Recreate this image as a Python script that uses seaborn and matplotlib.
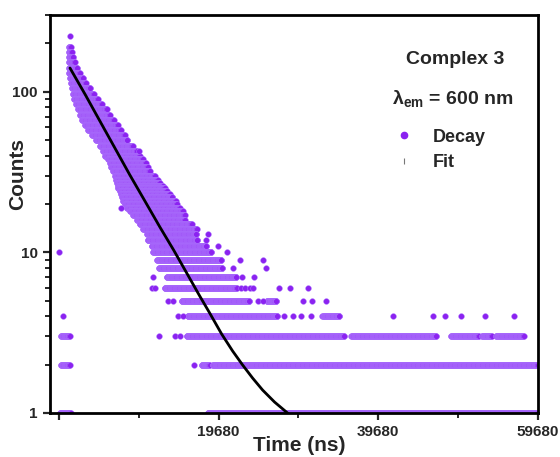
import numpy as np
import pandas as pd
import seaborn as sns
import matplotlib.pyplot as plt
from matplotlib.lines import Line2D
from matplotlib.ticker import FixedLocator, LogLocator, NullFormatter, FixedFormatter

# decay: each row = one count level over a time span (ns)
row_counts = [190, 177, 164, 152, 141, 131, 122, 113, 105, 97, 90, 84, 78, 72, 67, 62, 58, 54, 50, 46,
              43, 40, 38, 36, 34, 32, 30, 28, 27, 26, 25, 24, 23, 22, 21, 20, 19, 18, 17, 16,
              15, 14, 13, 12, 11, 10, 9, 8, 7, 6,
              5, 5, 4, 4, 3, 3, 3, 3, 3, 3, 2, 2, 2, 1, 1]
row_start = [930, 930, 930, 930, 930, 930, 1050, 1180, 1300, 1430, 1550, 1800, 2050, 2300, 2550, 2930, 3300, 3800, 4300, 4800,
             5180, 5430, 5800, 6050, 6180, 6430, 6680, 6800, 6930, 7050, 7050, 7300, 7430, 7550, 7680, 7930, 8180, 8550, 8930, 9430,
             9800, 10180, 10680, 10800, 11300, 11430, 11930, 12180, 13180, 12930,
             15050, 25680, 15800, 32680, -70, 15680, 36300, 48800, 52680, 54430, -70, 17550, 18930, -200, 18300]
row_end = [1180, 1300, 1430, 1680, 1930, 2300, 2680, 3050, 3550, 4050, 4550, 5050, 5680, 6050, 6550, 7050, 7430, 7930, 8300, 8930,
           9430, 9800, 10180, 10550, 10800, 11050, 11680, 12050, 12300, 12680, 12930, 13180, 13550, 13930, 14300, 14430, 14800, 15180, 15430, 15430,
           16300, 16930, 16930, 17050, 18180, 18800, 20050, 20180, 21930, 21930,
           23550, 26930, 27050, 34800, 1050, 35430, 46930, 52300, 53930, 57930, 1050, 18550, 59680, 1180, 59680]

# single points that stand apart from the rows
dot_time = [1055, 9680, 7430, 18305, 18055, 19555,
            -320, 20680, 22305, 25180, 21430, 25555,
            11430, 22555, 24055,
            11305, 11680, 22430, 22930, 23555, 23930, 27180, 28555, 30930,
            13305, 13930, 24555, 25180, 30305, 31430, 33180,
            180, 14555, 15180, 27805, 28930, 30055, 31305, 41555, 46555, 48055, 50055, 53055, 56680,
            12180, 14180, 14805, 16555]
dot_counts = [221, 43, 19, 13, 12, 11,
              10, 10, 9, 9, 8, 8,
              7, 7, 7,
              6, 6, 6, 6, 6, 6, 6, 6, 6,
              5, 5, 5, 5, 5, 5, 5,
              4, 4, 4, 4, 4, 4, 4, 4, 4, 4, 4, 4, 4,
              3, 3, 3, 2]

# fit curve
fit_time = [1055, 2930, 4805, 6680, 8555, 10430, 12305, 14055, 15680, 17305, 18555,
            20055, 21430, 22680, 23930, 25180, 26680, 28305, 29805]
fit_counts = [140.3, 96.6, 65.6, 44.6, 30.3, 20.9, 14.4, 10.3, 7.43, 5.35, 4.19,
              3.10, 2.43, 1.99, 1.65, 1.39, 1.17, 1.00, 0.87]

channel_ns = 45  # spacing of the time channels

x_major = [-320, 19680, 39680, 59680]
x_major_labels = ['', '19680', '39680', '59680']
x_minor = [9680, 29680, 49680]

purple = '#8B22F0'

# expand rows into channel points
t_list, c_list = [], []
for c, a, b in zip(row_counts, row_start, row_end):
    t = np.arange(a, b + 1, channel_ns)
    t_list.append(t)
    c_list.append(np.full(len(t), c))
t_list.append(np.array(dot_time))
c_list.append(np.array(dot_counts))
decay_df = pd.DataFrame({'time': np.concatenate(t_list), 'counts': np.concatenate(c_list)})
fit_df = pd.DataFrame({'time': fit_time, 'counts': fit_counts})

sns.set_theme(style='white')
plt.rcParams['font.family'] = ['Liberation Sans', 'DejaVu Sans']
plt.rcParams['font.weight'] = 'bold'
plt.rcParams['mathtext.fontset'] = 'custom'
plt.rcParams['mathtext.rm'] = 'Liberation Sans:bold'
plt.rcParams['mathtext.bf'] = 'Liberation Sans:bold'

fig = plt.figure(figsize=(5.6, 4.57), dpi=100)
ax = fig.add_axes([0.0893, 0.0963, 0.8714, 0.8709])

sns.scatterplot(data=decay_df, x='time', y='counts', s=17, color=purple,
                edgecolor='#B07AFF', linewidth=0.35, ax=ax, legend=False, zorder=2)
sns.lineplot(data=fit_df, x='time', y='counts', color='black', linewidth=2.0,
             sort=False, estimator=None, ax=ax, zorder=3)

ax.set_yscale('log')
ax.set_ylim(1, 300)
ax.set_xlim(-1445, 59680)

ax.xaxis.set_major_locator(FixedLocator(x_major))
ax.xaxis.set_major_formatter(FixedFormatter(x_major_labels))
ax.xaxis.set_minor_locator(FixedLocator(x_minor))
ax.yaxis.set_major_locator(FixedLocator([1, 10, 100]))
ax.yaxis.set_major_formatter(FixedFormatter(['1', '10', '100']))
ax.yaxis.set_minor_locator(LogLocator(base=10, subs=np.arange(2, 10)))
ax.yaxis.set_minor_formatter(NullFormatter())

ax.tick_params(which='major', direction='out', length=5, width=1.6, labelsize=11,
               bottom=True, left=True, top=False, right=False, pad=4)
ax.tick_params(which='minor', direction='out', length=3.5, width=1.4,
               bottom=True, left=True, top=False, right=False)
for lab in ax.get_xticklabels() + ax.get_yticklabels():
    lab.set_fontweight('bold')
for sp in ax.spines.values():
    sp.set_linewidth(2.0)
    sp.set_color('black')

ax.set_xlabel('Time (ns)', fontsize=15, fontweight='bold')
ax.set_ylabel('Counts', fontsize=15, fontweight='bold')
ax.xaxis.set_label_coords(0.51, -0.058)
ax.yaxis.set_label_coords(-0.047, 0.60)

ax.text(0.83, 0.887, 'Complex 3', transform=ax.transAxes, ha='center', va='center',
        fontsize=14, fontweight='bold')
ax.text(0.825, 0.79, r'$\mathrm{λ_{em}}$ = 600 nm', transform=ax.transAxes, ha='center', va='center',
        fontsize=14, fontweight='bold')

handles = [Line2D([], [], marker='o', ls='', color=purple, markersize=4.5),
           Line2D([], [], marker='|', ls='', color='#777777', markersize=5, markeredgewidth=0.8)]
ax.legend(handles, ['Decay', 'Fit'], loc='upper left', bbox_to_anchor=(0.67, 0.755),
          frameon=False, handlelength=1.2, handletextpad=1.0,
          labelspacing=0.45, prop={'weight': 'bold', 'size': 13})

fig.savefig('out.png', dpi=100)
